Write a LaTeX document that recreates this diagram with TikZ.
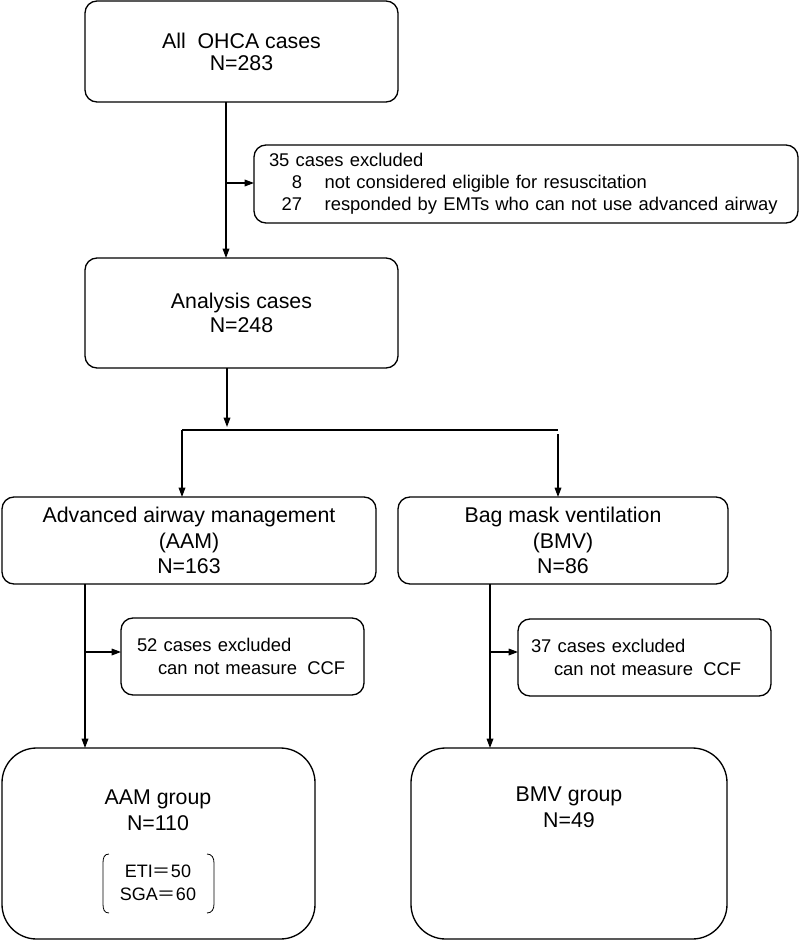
\documentclass[tikz,border=0pt]{standalone}
\usepackage{fontspec}
\setmainfont{Liberation Sans}
\newfontfamily\cjk{Noto Sans CJK JP}
\usetikzlibrary{arrows.meta,calc}
\tikzset{
  box/.style={draw, line width=1pt, rounded corners=9pt, anchor=north west,
    inner sep=0pt, outer sep=0pt, align=center},
  bigfont/.style={font=\fontsize{16}{19}\selectfont},
  smallfont/.style={font=\fontsize{13.8}{16.5}\selectfont},
  exbox/.style={box, smallfont, align=left},
  arr/.style={line width=0.9pt, -{Triangle[length=7pt,width=5pt]}},
  ln/.style={line width=0.9pt},
}
\begin{document}
\begin{tikzpicture}[x=0.75pt,y=-0.75pt]
\useasboundingbox (0,0) rectangle (800,941);
% boxes
\node[box, font=\fontsize{16}{16.5}\selectfont, minimum width=234.75pt, minimum height=75.75pt]
  (all) at (85,1) {All\ \ OHCA cases\\N=283};
\node[box, font=\fontsize{16}{18}\selectfont, minimum width=234.75pt, minimum height=82.5pt]
  (ana) at (85,258) {Analysis cases\\N=248};
\node[exbox, text width=385.5pt, inner xsep=11.25pt, minimum height=58.5pt]
  (ex1) at (254,145) {35 cases excluded\\
  \makebox[24.75pt][r]{8}\hspace{17pt}not considered eligible for resuscitation\\
  \makebox[24.75pt][r]{27}\hspace{17pt}responded by EMTs who can not use advanced airway};
\node[box, bigfont, minimum width=280.5pt, minimum height=65.25pt]
  (adv) at (2,497) {Advanced airway management\\(AAM)\\N=163};
\node[box, bigfont, minimum width=247.5pt, minimum height=65.25pt]
  (bmv) at (398,497) {Bag mask ventilation\\(BMV)\\N=86};
\node[exbox, text width=158.25pt, inner xsep=12pt, minimum height=57.75pt,
  font=\fontsize{13.8}{17}\selectfont]
  (ex2) at (121,618) {52 cases excluded\\\hspace*{15.75pt}can not measure\hspace{0.56em}CCF};
\node[exbox, text width=170.25pt, inner xsep=9.75pt, minimum height=57.75pt,
  font=\fontsize{13.8}{17}\selectfont]
  (ex3) at (518,619) {37 cases excluded\\\hspace*{17.25pt}can not measure\hspace{0.56em}CCF};
\node[box, rounded corners=26pt, minimum width=234.75pt, minimum height=143.25pt]
  (aamg) at (2,748) {};
\node[box, rounded corners=26pt, minimum width=237pt, minimum height=143.25pt]
  (bmvg) at (411,748) {};
\node[bigfont, align=center, font=\fontsize{16}{19.5}\selectfont] (aamt) at (158,810) {AAM group\\N=110};
\node[align=center, font=\fontsize{13.5}{17}\selectfont] (eti) at (158,883)
  {ETI{\cjk ＝}50\\SGA{\cjk ＝}60};
\node[bigfont, align=center, font=\fontsize{16}{19.5}\selectfont] (bmvt) at (569,807) {BMV group\\N=49};
% bracket around ETI/SGA
\draw[line width=0.6pt] (109,854) .. controls (104,854) and (103,858) .. (103,863)
  -- (103,904) .. controls (103,909) and (104,913) .. (109,913);
\draw[line width=0.6pt] (207,854) .. controls (212,854) and (214,858) .. (214,863)
  -- (214,904) .. controls (214,909) and (212,913) .. (207,913);
% connectors
\coordinate (j1) at (226,183);
\draw[arr] (all.south -| j1) -- (ana.north -| j1);
\draw[arr] (j1) -- (ex1.west |- j1);
\coordinate (s1) at (227,427);
\draw[arr] (ana.south -| s1) -- (s1);
\coordinate (hl) at (182,430);
\coordinate (hr) at (558,430);
\coordinate (hr2) at (558,434);
\draw[ln] (hl) -- (hr);
\draw[arr] (hl) -- (adv.north -| hl);
\draw[arr] (hr2) -- (bmv.north -| hr2);
\coordinate (l1) at (85,652);
\draw[arr] (adv.south -| l1) -- (aamg.north -| l1);
\draw[arr] (l1) -- (ex2.west |- l1);
\coordinate (r1) at (490,652);
\draw[arr] (bmv.south -| r1) -- (bmvg.north -| r1);
\draw[arr] (r1) -- (ex3.west |- r1);
\end{tikzpicture}
\end{document}
